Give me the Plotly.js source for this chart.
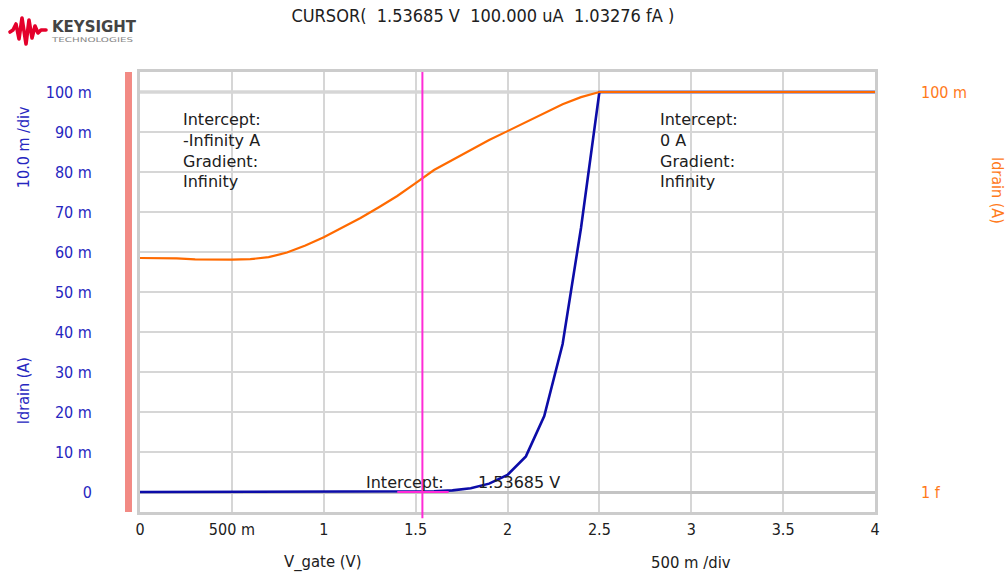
<!DOCTYPE html>
<html>
<head>
<meta charset="utf-8">
<script src="https://cdn.plot.ly/plotly-3.0.1.min.js"></script>
<style>
html,body{margin:0;padding:0;background:#fff;}
#wrap{position:relative;width:1008px;height:574px;}
#chart{position:absolute;left:0;top:0;width:1008px;height:574px;}
#logo{position:absolute;left:0;top:0;width:150px;height:60px;pointer-events:none;}
</style>
</head>
<body>
<div id="wrap">
<div id="chart"></div>
<svg id="logo" width="150" height="60" xmlns="http://www.w3.org/2000/svg">
  <polyline points="10,32 13,30 16,24 19,39 22,18 26,44 29,20 32,38 35,26 38,33 41,30 46,30"
    fill="none" stroke="#e4002b" stroke-width="3.6" stroke-linejoin="round" stroke-linecap="round"/>
  <text x="52" y="32" font-family="DejaVu Sans, sans-serif" font-weight="bold" font-size="16" fill="#444" textLength="84" lengthAdjust="spacingAndGlyphs">KEYSIGHT</text>
  <text x="52" y="42" font-family="DejaVu Sans, sans-serif" font-size="6.5" fill="#888" textLength="81" lengthAdjust="spacingAndGlyphs">TECHNOLOGIES</text>
</svg>
</div>
<script>
// Gate voltage sweep (V)
const vGate = [0.0,0.1,0.2,0.3,0.4,0.5,0.6,0.7,0.8,0.9,1.0,1.1,1.2,1.3,1.4,1.5,1.6,1.7,1.8,1.9,2.0,
               2.1,2.2,2.3,2.4,2.5,2.6,2.7,2.8,2.9,3.0,3.1,3.2,3.3,3.4,3.5,3.6,3.7,3.8,3.9,4.0];
// Drain current (A)
const iDrain = [1.55e-7,1.55e-7,1.51e-7,1.38e-7,1.35e-7,1.35e-7,1.41e-7,1.66e-7,2.40e-7,4.27e-7,8.3e-7,
                1.74e-6,3.89e-6,9.3e-6,2.29e-5,6.5e-5,1.86e-4,4.17e-4,9.3e-4,2.09e-3,4.27e-3,
                8.9e-3,1.9e-2,3.7e-2,6.6e-2,0.1,0.1,0.1,0.1,0.1,0.1,0.1,0.1,0.1,0.1,0.1,0.1,0.1,0.1,0.1,0.1];

const xTickVals = [0,0.5,1,1.5,2,2.5,3,3.5,4];
const xTickText = ['0','500 m','1','1.5','2','2.5','3','3.5','4'];
const yTickVals = [0,0.01,0.02,0.03,0.04,0.05,0.06,0.07,0.08,0.09,0.1];
const yTickText = ['0','10 m','20 m','30 m','40 m','50 m','60 m','70 m','80 m','90 m','100 m'];
const y2TickVals = [1e-15,0.1];
const y2TickText = ['1 f','100 m'];

const cursorV = 1.53685;
const cursorText = 'CURSOR(\u00a0\u00a01.53685 V\u00a0\u00a0100.000 uA\u00a0\u00a01.03276 fA )';
const tangentX = [1.40, 1.68];
const tangentY = 0;

const FONT_N = 'DejaVu Sans Condensed, DejaVu Sans, sans-serif';
const FONT = 'DejaVu Sans, sans-serif';
const BLUE_T = '#2626c0';
const ORANGE = '#ff7a1a';
const DARK = '#202020';

const traces = [
  {x: vGate, y: iDrain, type: 'scatter', mode: 'lines', yaxis: 'y',
   line: {color: '#0c0ca8', width: 2.6}, hoverinfo: 'skip'},
  {x: vGate, y: iDrain, type: 'scatter', mode: 'lines', yaxis: 'y2',
   line: {color: '#ff6a00', width: 2.2}, hoverinfo: 'skip'}
];

const layout = {
  width: 1008, height: 574,
  margin: {l: 140, r: 133, t: 72, b: 62},
  paper_bgcolor: '#fff', plot_bgcolor: '#fff',
  showlegend: false,
  title: {text: cursorText, x: 0.479, xref: 'container', xanchor: 'center',
          y: 0.972, yref: 'container', yanchor: 'middle',
          font: {family: FONT_N, size: 18, color: DARK}},
  xaxis: {range: [0, 4], tickvals: xTickVals, ticktext: xTickText,
          showgrid: true, gridcolor: '#d6d6d6', gridwidth: 2,
          showline: true, mirror: true, linecolor: '#cccccc', linewidth: 3,
          zeroline: false, ticks: '', ticklabelstandoff: 1,
          tickfont: {family: FONT_N, size: 16, color: DARK}},
  yaxis: {range: [-0.005, 0.105], tickvals: yTickVals, ticktext: yTickText,
          showgrid: true, gridcolor: '#d6d6d6', gridwidth: 2,
          zeroline: true, zerolinecolor: '#c4c4c4', zerolinewidth: 3,
          showline: true, mirror: true, linecolor: '#cccccc', linewidth: 3,
          ticks: '', ticklabelstandoff: 42,
          tickfont: {family: FONT_N, size: 16, color: BLUE_T}},
  yaxis2: {type: 'log', overlaying: 'y', side: 'right', range: [-15.7, -0.3],
           tickvals: y2TickVals, ticktext: y2TickText,
           showgrid: false, zeroline: false, showline: false, ticks: '',
           ticklabelstandoff: 45,
           tickfont: {family: FONT_N, size: 16, color: ORANGE}},
  shapes: [
    {type: 'line', xref: 'x', yref: 'y', x0: 0, x1: 4, y0: 0.1, y1: 0.1,
     line: {color: '#c4c4c4', width: 3}, layer: 'below'},
    {type: 'rect', xref: 'paper', yref: 'paper', x0: -0.0204, x1: -0.0109, y0: 0, y1: 1,
     fillcolor: '#f28a84', line: {width: 0}},
    {type: 'line', xref: 'x', yref: 'paper', x0: cursorV, x1: cursorV, y0: -0.014, y1: 1,
     line: {color: '#ff2bd6', width: 2}},
    {type: 'line', xref: 'x', yref: 'y', x0: tangentX[0], x1: tangentX[1], y0: tangentY, y1: tangentY,
     line: {color: '#ff2bd6', width: 2}}
  ],
  annotations: [
    {text: 'Intercept:<br>-Infinity A<br>Gradient:<br>Infinity', xref: 'x', yref: 'y',
     x: 0.223, y: 0.0855, xanchor: 'left', yanchor: 'middle', align: 'left', showarrow: false,
     font: {family: FONT, size: 16, color: DARK}},
    {text: 'Intercept:<br>0 A<br>Gradient:<br>Infinity', xref: 'x', yref: 'y',
     x: 2.819, y: 0.0855, xanchor: 'left', yanchor: 'middle', align: 'left', showarrow: false,
     font: {family: FONT, size: 16, color: DARK}},
    {text: 'Intercept:', xref: 'x', yref: 'y', x: 1.219, y: 0.0025,
     xanchor: 'left', yanchor: 'middle', showarrow: false,
     font: {family: FONT, size: 16, color: DARK}},
    {text: '1.53685 V', xref: 'x', yref: 'y', x: 1.829, y: 0.0025,
     xanchor: 'left', yanchor: 'middle', showarrow: false,
     font: {family: FONT, size: 16, color: DARK}},
    {text: '10.0 m /div', xref: 'paper', yref: 'paper', x: -0.159, y: 0.8295,
     xanchor: 'center', yanchor: 'middle', textangle: -90, showarrow: false,
     font: {family: FONT_N, size: 16, color: BLUE_T}},
    {text: 'Idrain (A)', xref: 'paper', yref: 'paper', x: -0.159, y: 0.275,
     xanchor: 'center', yanchor: 'middle', textangle: -90, showarrow: false,
     font: {family: FONT_N, size: 16, color: BLUE_T}},
    {text: 'Idrain (A)', xref: 'paper', yref: 'paper', x: 1.166, y: 0.732,
     xanchor: 'center', yanchor: 'middle', textangle: 90, showarrow: false,
     font: {family: FONT_N, size: 16, color: ORANGE}},
    {text: 'V_gate (V)', xref: 'paper', yref: 'paper', x: 0.249, y: -0.114,
     xanchor: 'center', yanchor: 'middle', showarrow: false,
     font: {family: FONT_N, size: 16.5, color: DARK}},
    {text: '500 m /div', xref: 'paper', yref: 'paper', x: 0.749, y: -0.114,
     xanchor: 'center', yanchor: 'middle', showarrow: false,
     font: {family: FONT_N, size: 16.5, color: DARK}}
  ]
};

Plotly.newPlot('chart', traces, layout, {staticPlot: true, displayModeBar: false});
</script>
</body>
</html>
